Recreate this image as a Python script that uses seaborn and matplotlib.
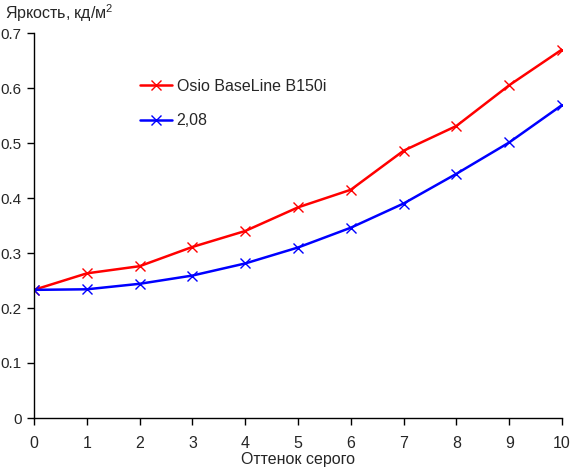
import numpy as np
import pandas as pd
import matplotlib
matplotlib.use("Agg")
import matplotlib.pyplot as plt
import seaborn as sns

# Gray level steps and measured brightness (cd/m2)
gray_levels = list(range(11))
osio_values = [0.233, 0.263, 0.276, 0.311, 0.340, 0.383, 0.415, 0.486, 0.531, 0.605, 0.670]
gamma_values = [0.233, 0.234, 0.244, 0.259, 0.281, 0.310, 0.346, 0.390, 0.444, 0.501, 0.569]
series_names = ["Osio BaseLine B150i", "2,08"]
series_colors = ["#ff0000", "#0000ff"]
y_ticks = [0, 0.1, 0.2, 0.3, 0.4, 0.5, 0.6, 0.7]

df = pd.DataFrame({
    "x": gray_levels * 2,
    "y": osio_values + gamma_values,
    "series": [series_names[0]] * 11 + [series_names[1]] * 11,
})

sns.set_style("ticks")
plt.rcParams["font.family"] = ["Liberation Sans", "DejaVu Sans"]
plt.rcParams["mathtext.fontset"] = "custom"
plt.rcParams["mathtext.rm"] = "Liberation Sans"

FS = 11.5

fig = plt.figure(figsize=(5.7, 4.68), dpi=100)
ax = fig.add_axes([34 / 570, 1 - 418 / 468, 528 / 570, 385 / 468])

for name, color in zip(series_names, series_colors):
    sns.lineplot(
        data=df[df["series"] == name], x="x", y="y",
        color=color, label=name,
        marker="x", markersize=7.5, markeredgewidth=1.0,
        markeredgecolor=color, linewidth=1.8, ax=ax,
    )

ax.set_xlim(0, 10)
ax.set_ylim(0, 0.7)
ax.set_xticks(gray_levels)
ax.set_yticks(y_ticks)
ax.set_yticklabels(["0" if v == 0 else f"{v:.1f}" for v in y_ticks])
ax.tick_params(axis="both", labelsize=FS, length=5, width=1, color="black")
ax.tick_params(axis="x", pad=8)
ax.tick_params(axis="y", labelsize=11, pad=4)
for side in ["top", "right"]:
    ax.spines[side].set_visible(False)
for side in ["left", "bottom"]:
    ax.spines[side].set_color("black")
    ax.spines[side].set_linewidth(1)

ax.set_xlabel("Оттенок серого", fontsize=FS, labelpad=1)
ax.set_ylabel("")
fig.text(5 / 570, 1 - 13 / 468, "Яркость, кд/м$^2$", fontsize=FS, ha="left", va="center")

ax.legend(
    loc="upper left", bbox_to_anchor=((140 - 34) / 528, (418 - 79) / 385),
    frameon=False, fontsize=FS, handlelength=2.0, handletextpad=0.3,
    labelspacing=1.2, borderpad=0, borderaxespad=0,
)

fig.savefig("out.png", dpi=100)
plt.close(fig)
